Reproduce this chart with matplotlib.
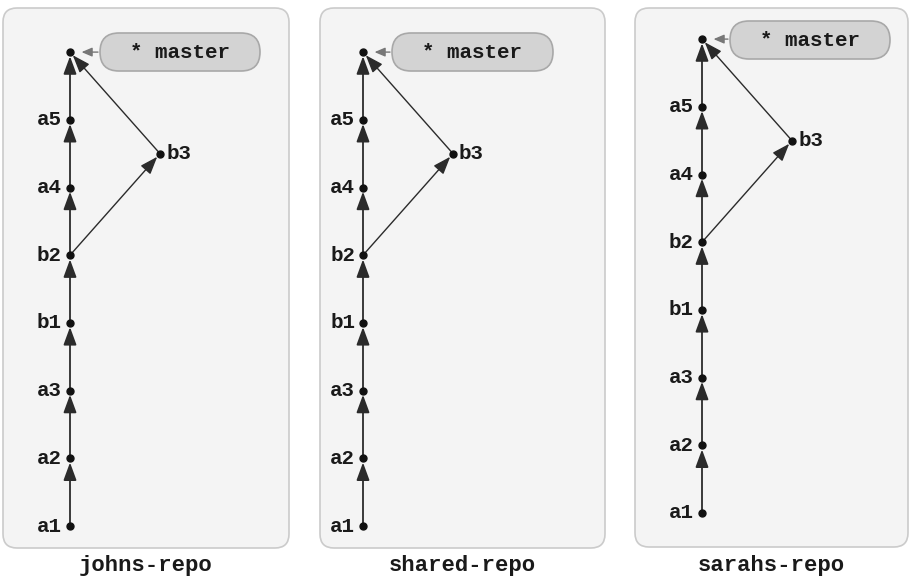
import matplotlib.pyplot as plt
from matplotlib.patches import FancyBboxPatch, FancyArrowPatch

# repositories shown side by side
repos = ["johns-repo", "shared-repo", "sarahs-repo"]

# main line of history, oldest first ("" is the unlabeled merge commit)
mainline = ["a1", "a2", "a3", "b1", "b2", "a4", "a5", ""]
# side commit: branches off b2 and is merged into the top commit
side_commit = "b3"
side_parent = "b2"
branch_label = "* master"

# layout (pixels of a 909x577 canvas)
W, H = 909, 577
node_x = [70, 363, 702]
base_y = [526, 526, 513]
step = 67.7
side_dx = 90
boxes = [(3, 8, 286, 540), (320, 8, 285, 540), (635, 8, 273, 539)]
pills = [(100, 33, 160, 38), (392, 33, 161, 38), (730, 21, 160, 38)]

LINE = "#2b2b2b"
FONT = ["Liberation Mono", "DejaVu Sans Mono"]

fig = plt.figure(figsize=(W / 100, H / 100), dpi=100)
ax = fig.add_axes([0, 0, 1, 1])
ax.set_xlim(0, W)
ax.set_ylim(H, 0)
ax.axis("off")


def arrow(p, q, lw=1.3, color=LINE, hl=0.6, hw=0.22, shrink=3):
    a = FancyArrowPatch(p, q, arrowstyle=f"-|>,head_length={hl},head_width={hw}",
                        mutation_scale=18, lw=lw, color=color,
                        shrinkA=0, shrinkB=shrink, zorder=3)
    ax.add_patch(a)


for k, repo in enumerate(repos):
    bx, by, bw, bh = boxes[k]
    ax.add_patch(FancyBboxPatch((bx + 14, by + 14), bw - 28, bh - 28,
                                boxstyle="round,pad=14", fc="#f4f4f4",
                                ec="#cbcbcb", lw=1.2, zorder=0))
    ax.text(bx + bw / 2, 566, repo, ha="center", va="center", fontsize=16,
            fontweight="bold", family=FONT, color="#1a1a1a")

    x0 = node_x[k]
    pos = {}
    for i, c in enumerate(mainline):
        pos[c] = (x0, base_y[k] - i * step)
    ia4 = mainline.index(side_parent) + 1
    pos[side_commit] = (x0 + side_dx, base_y[k] - (ia4 + 0.5) * step)

    # edges along the main line
    for i in range(1, len(mainline)):
        arrow(pos[mainline[i - 1]], pos[mainline[i]])
    # side branch and merge
    arrow(pos[side_parent], pos[side_commit], lw=1.0)
    arrow(pos[side_commit], pos[mainline[-1]], lw=1.0)

    for c, (x, y) in pos.items():
        ax.plot(x, y, "o", ms=5, color="#111111", zorder=4)
        if c == side_commit:
            ax.text(x + 6, y, c, ha="left", va="center", fontsize=15,
                    fontweight="bold", family=FONT, color="#1a1a1a")
        elif c:
            ax.text(x - 8, y, c, ha="right", va="center", fontsize=15,
                    fontweight="bold", family=FONT, color="#1a1a1a")

    # branch pointer pill
    px, py, pw, ph = pills[k]
    ax.add_patch(FancyBboxPatch((px, py), pw, ph,
                                boxstyle=f"round,pad=0,rounding_size={ph / 2}",
                                fc="#d3d3d3", ec="#a8a8a8", lw=1.2, zorder=2))
    ax.text(px + pw / 2, py + ph / 2 + 1, branch_label, ha="center", va="center",
            fontsize=15, fontweight="bold", family=FONT, color="#1a1a1a", zorder=3)
    top = pos[mainline[-1]]
    arrow((px - 2, top[1]), (top[0] + 6, top[1]), lw=1.0, color="#777777",
          hl=0.35, hw=0.15, shrink=4)

fig.savefig("out.png", dpi=100)
